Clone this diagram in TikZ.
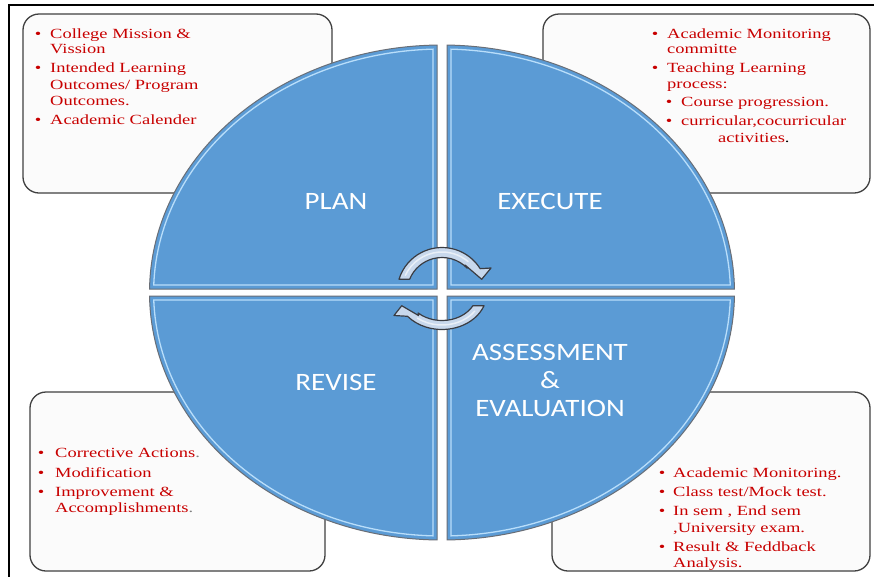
\documentclass[tikz,border=0pt]{standalone}
\usepackage{fontspec}
\newfontfamily\redfont[FakeStretch=1.32]{Liberation Serif}
\newfontfamily\labelfont[FakeStretch=1.16]{Carlito}
\definecolor{qblue}{RGB}{91,155,213}
\definecolor{qedge}{RGB}{105,110,118}
\definecolor{qhi}{RGB}{185,222,250}
\definecolor{txtred}{RGB}{200,0,0}
\definecolor{boxedge}{RGB}{64,64,64}
\definecolor{boxfill}{RGB}{251,251,251}
\definecolor{arrfill}{RGB}{200,216,236}
\definecolor{arredge}{RGB}{58,60,66}
\begin{document}
\begin{tikzpicture}[x=1pt,y=-1pt,
  infobox/.style={draw=boxedge,line width=1.3pt,fill=boxfill,rounded corners=16pt},
  rline/.style={anchor=base west,inner sep=0pt,font=\redfont\fontsize{14}{16}\selectfont,text=txtred},
  bul/.style={anchor=base,inner sep=0pt,font=\redfont\fontsize{14}{16}\selectfont,text=txtred},
  qlabel/.style={text=white,font=\labelfont\fontsize{25}{28}\selectfont,align=center,inner sep=0pt},
  quad/.style={fill=qblue,draw=qedge,line width=1pt},
  quadhi/.style={draw=qhi,line width=1.3pt},
  cyclearrow/.style={draw=arredge,line width=1.2pt,fill=arrfill,line join=round},
  arrowshine/.style={draw=white,line width=1.5pt,opacity=0.6,line cap=round},
]
\useasboundingbox (0,0) rectangle (874,576);
\fill[white] (0,0) rectangle (874,576);
\draw[line width=1.6pt] (875,5) -- (9,5) -- (9,577);

% corner boxes
\draw[infobox] (23,14) rectangle (332,193);
\draw[infobox] (543,14) rectangle (870,193);
\draw[infobox] (30,392) rectangle (325,571);
\draw[infobox] (552,392) rectangle (870,571);

% quadrants
\begin{scope}[shift={(442,292.5)},yscale=-1]
  \draw[quad] (-5,3.5) -- (-5,247.46) arc[start angle=90.98,end angle=179.19,x radius=292.5,y radius=247.5] -- cycle;
  \draw[quad] (5,3.5) -- (5,247.46) arc[start angle=89.02,end angle=0.81,x radius=292.5,y radius=247.5] -- cycle;
  \draw[quad] (-5,-3.5) -- (-5,-247.46) arc[start angle=-90.98,end angle=-179.19,x radius=292.5,y radius=247.5] -- cycle;
  \draw[quad] (5,-3.5) -- (5,-247.46) arc[start angle=-89.02,end angle=-0.81,x radius=292.5,y radius=247.5] -- cycle;
  \draw[quadhi] (-9,7.5) -- (-9,243.35) arc[start angle=91.81,end angle=178.22,x radius=288.5,y radius=243.5] -- cycle;
  \draw[quadhi] (9,7.5) -- (9,243.35) arc[start angle=88.19,end angle=1.78,x radius=288.5,y radius=243.5] -- cycle;
  \draw[quadhi] (-9,-7.5) -- (-9,-243.35) arc[start angle=-91.81,end angle=-178.22,x radius=288.5,y radius=243.5] -- cycle;
  \draw[quadhi] (9,-7.5) -- (9,-243.35) arc[start angle=-88.19,end angle=-1.78,x radius=288.5,y radius=243.5] -- cycle;
  % cycle arrows
  \draw[cyclearrow] (162.8:45) arc[start angle=162.8,end angle=32,radius=45] -- (49,24.5) -- (39.7,13.2) -- (23,27.5) -- (44:35) arc[start angle=44,end angle=157.7,radius=35] -- cycle;
  \draw[arrowshine] (155:40.5) arc[start angle=155,end angle=50,radius=40.5];
  \draw[cyclearrow] (-21.07:45 and 37) arc[start angle=-21.07,end angle=-140,x radius=45,y radius=37] -- (-48,-23) -- (-40.3,-13.2) -- (-23.5,-23) -- (-133:35 and 28) arc[start angle=-133,end angle=-28.36,x radius=35,y radius=28] -- cycle;
  \draw[arrowshine] (-35:40 and 32.5) arc[start angle=-35,end angle=-128,x radius=40,y radius=32.5];
\end{scope}

% quadrant labels
\node[qlabel] (plan) at (336,201) {PLAN};
\node[qlabel] (execute) at (550,201) {EXECUTE};
\node[qlabel] (revise) at (336,382) {REVISE};
\node[qlabel] (assess) at (550,380) {ASSESSMENT\\\&\\EVALUATION};

% top-left box text
\node[bul] (tlb1) at (38,38) {•};
\node[rline] (tl1) at (50,38) {College Mission \&};
\node[rline] (tl2) at (50,53) {Vission};
\node[bul] (tlb2) at (38,72) {•};
\node[rline] (tl3) at (50,72) {Intended Learning};
\node[rline] (tl4) at (50,89) {Outcomes/ Program};
\node[rline] (tl5) at (50,105) {Outcomes.};
\node[bul] (tlb3) at (38,124) {•};
\node[rline] (tl6) at (50,124) {Academic Calender};

% top-right box text
\node[bul] (trb1) at (655,38) {•};
\node[rline] (tr1) at (667,38) {Academic Monitoring};
\node[rline] (tr2) at (667,53) {committe};
\node[bul] (trb2) at (655,72) {•};
\node[rline] (tr3) at (667,72) {Teaching Learning};
\node[rline] (tr4) at (667,88) {process:};
\node[bul] (trb3) at (669,106) {•};
\node[rline] (tr5) at (681,106) {Course progression.};
\node[bul] (trb4) at (669,125) {•};
\node[rline] (tr6) at (681,125) {curricular,cocurricular};
\node[rline] (tr7) at (718,142) {activities\textcolor{black}{.}};

% bottom-left box text
\node[bul] (blb1) at (41,457) {•};
\node[rline] (bl1) at (55,457) {Corrective Actions\textcolor{gray}{.}};
\node[bul] (blb2) at (41,477) {•};
\node[rline] (bl2) at (55,477) {Modification};
\node[bul] (blb3) at (41,496) {•};
\node[rline] (bl3) at (55,496) {Improvement \&};
\node[rline] (bl4) at (55,512) {Accomplishments\textcolor{gray}{.}};

% bottom-right box text
\node[bul] (brb1) at (662,477) {•};
\node[rline] (br1) at (673,477) {Academic Monitoring.};
\node[bul] (brb2) at (662,496) {•};
\node[rline] (br2) at (673,496) {Class test/Mock test.};
\node[bul] (brb3) at (662,515) {•};
\node[rline] (br3) at (673,515) {In sem , End sem};
\node[rline] (br4) at (673,532) {,University exam.};
\node[bul] (brb4) at (662,551) {•};
\node[rline] (br5) at (673,551) {Result \& Feddback};
\node[rline] (br6) at (673,567) {Analysis.};
\end{tikzpicture}
\end{document}
